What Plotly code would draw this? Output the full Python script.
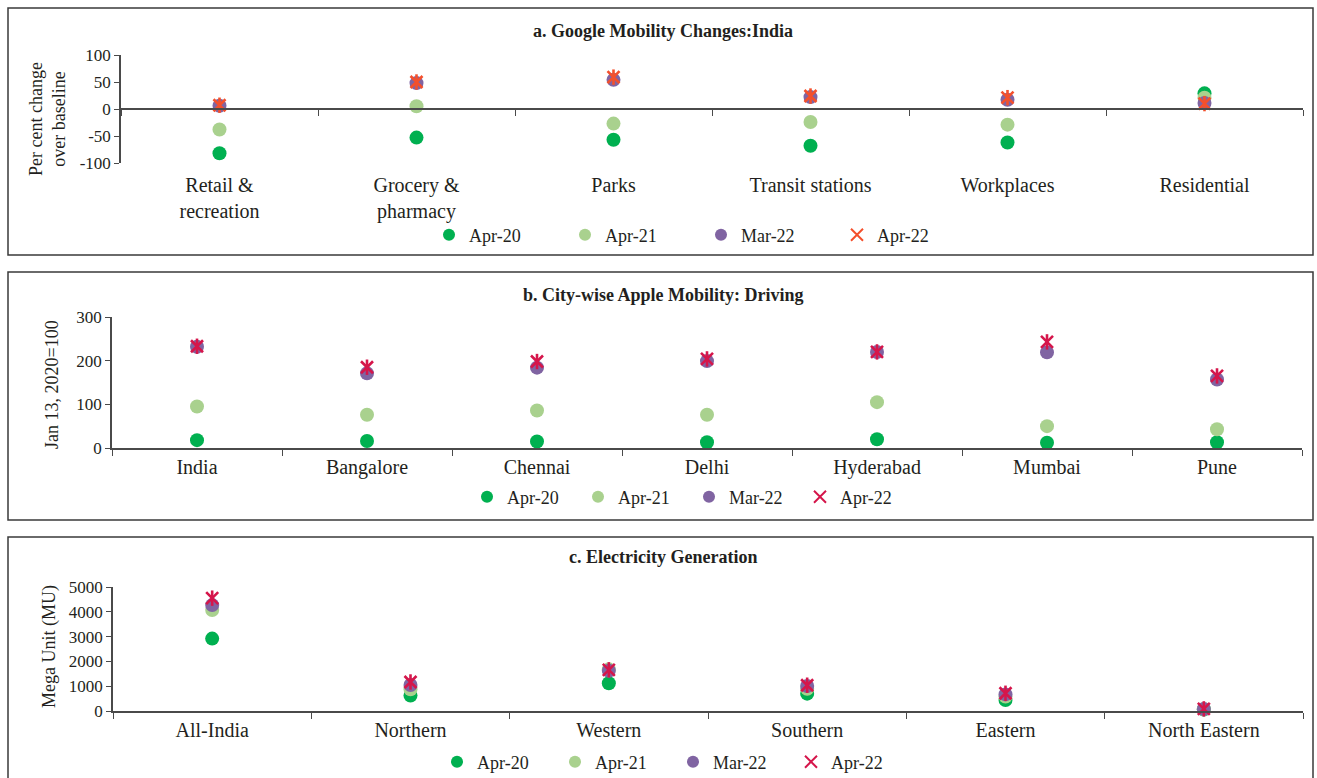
import plotly.graph_objects as go

W, H = 1317, 778

# ---- a. Google mobility changes: India (per cent change over baseline) ----
mobility_categories = ["Retail &<br>recreation", "Grocery &<br>pharmacy", "Parks",
                       "Transit stations", "Workplaces", "Residential"]
mob_apr20 = [-82, -53, -57, -68, -62, 29]
mob_apr21 = [-38, 5, -27, -24, -29, 21]
mob_mar22 = [6, 48, 54, 22, 17, 11]
mob_apr22 = [7, 50, 59, 24, 21, 10]
mob_ticks = [-100, -50, 0, 50, 100]

# ---- b. City-wise Apple mobility: driving (Jan 13, 2020 = 100) ----
cities = ["India", "Bangalore", "Chennai", "Delhi", "Hyderabad", "Mumbai", "Pune"]
drv_apr20 = [18, 16, 15, 13, 20, 12, 13]
drv_apr21 = [95, 76, 86, 76, 105, 50, 43]
drv_mar22 = [232, 171, 184, 199, 220, 219, 157]
drv_apr22 = [233, 185, 198, 204, 220, 243, 165]
drv_ticks = [0, 100, 200, 300]

# ---- c. Electricity generation (Mega Unit) ----
regions = ["All-India", "Northern", "Western", "Southern", "Eastern", "North Eastern"]
elec_apr20 = [2920, 620, 1120, 700, 445, 60]
elec_apr21 = [4070, 880, 1680, 900, 580, 70]
elec_mar22 = [4270, 1050, 1620, 1010, 670, 80]
elec_apr22 = [4550, 1170, 1660, 1040, 715, 85]
elec_ticks = [0, 1000, 2000, 3000, 4000, 5000]

series_names = ["Apr-20", "Apr-21", "Mar-22", "Apr-22"]

GREEN = "#00B050"
LIGHT_GREEN = "#A9D18E"
PURPLE = "#8064A2"
ORANGE_RED = "#F4502C"
CRIMSON = "#D5164B"

FONT = "Liberation Serif"
TEXT = "#231F20"
AXIS = "#4A4A4A"


def px(x):
    return x / W


def py(y):
    return 1 - y / H


fig = go.Figure()


def add_panel(cats, values, star_color, xa, ya, legend):
    colors = [GREEN, LIGHT_GREEN, PURPLE]
    for name, vals, col in zip(series_names[:3], values[:3], colors):
        fig.add_trace(go.Scatter(
            x=cats, y=vals, name=name, mode="markers",
            marker=dict(symbol="circle", size=14, color=col, line=dict(width=0)),
            xaxis=xa, yaxis=ya, legend=legend, cliponaxis=False,
        ))
    # Apr-22: star marker (diagonal cross plus vertical stroke)
    fig.add_trace(go.Scatter(
        x=cats, y=values[3], name=series_names[3], mode="markers",
        marker=dict(symbol="x-thin-open", size=12, color=star_color,
                    line=dict(width=2.6, color=star_color)),
        xaxis=xa, yaxis=ya, legend=legend, legendgroup=legend + "star",
        cliponaxis=False,
    ))
    fig.add_trace(go.Scatter(
        x=cats, y=values[3], name=series_names[3], mode="markers",
        marker=dict(symbol="line-ns-open", size=11, color=star_color,
                    line=dict(width=2.6, color=star_color)),
        xaxis=xa, yaxis=ya, legend=legend, legendgroup=legend + "star",
        showlegend=False, cliponaxis=False, hoverinfo="skip",
    ))


add_panel(mobility_categories, [mob_apr20, mob_apr21, mob_mar22, mob_apr22],
          ORANGE_RED, "x", "y", "legend")
add_panel(cities, [drv_apr20, drv_apr21, drv_mar22, drv_apr22],
          CRIMSON, "x2", "y2", "legend2")
add_panel(regions, [elec_apr20, elec_apr21, elec_mar22, elec_apr22],
          CRIMSON, "x3", "y3", "legend3")

x_tick_font = dict(family=FONT, size=20, color=TEXT)
y_tick_font = dict(family=FONT, size=17, color=TEXT)

common_x = dict(type="category", tickson="boundaries", ticks="outside", ticklen=6,
                tickcolor=AXIS, tickwidth=1.3, showline=True, linecolor=AXIS,
                linewidth=1.5, showgrid=False, zeroline=False, tickfont=x_tick_font,
                fixedrange=True)
common_y = dict(ticks="outside", ticklen=5, tickcolor=AXIS, tickwidth=1.3,
                showline=True, linecolor=AXIS, linewidth=1.5, showgrid=False,
                zeroline=False, tickfont=y_tick_font, fixedrange=True)

# panel a: category axis drawn along the zero line, labels pushed below the plot
ya_dom = [py(163), py(55)]
ya_rng = [-100, 100]
zero_pos = ya_dom[0] + (0 - ya_rng[0]) / (ya_rng[1] - ya_rng[0]) * (ya_dom[1] - ya_dom[0])

fig.update_layout(
    width=W, height=H,
    margin=dict(l=0, r=0, t=0, b=0, autoexpand=False),
    paper_bgcolor="white", plot_bgcolor="white",
    font=dict(family=FONT, size=18, color=TEXT),
    xaxis=dict(common_x, domain=[px(121), px(1303)], anchor="free", position=zero_pos,
               range=[-0.5, len(mobility_categories) - 0.5], ticklabelstandoff=58),
    yaxis=dict(common_y, domain=ya_dom, range=ya_rng, anchor="x",
               tickvals=mob_ticks, ticktext=[str(v) for v in mob_ticks]),
    xaxis2=dict(common_x, domain=[px(112), px(1302)], anchor="y2",
                range=[-0.5, len(cities) - 0.5]),
    yaxis2=dict(common_y, domain=[py(448), py(317)], range=[0, 300], anchor="x2",
                tickvals=drv_ticks, ticktext=[str(v) for v in drv_ticks]),
    xaxis3=dict(common_x, domain=[px(113), px(1303)], anchor="y3",
                range=[-0.5, len(regions) - 0.5]),
    yaxis3=dict(common_y, domain=[py(711), py(587)], range=[0, 5000], anchor="x3",
                tickvals=elec_ticks, ticktext=[str(v) for v in elec_ticks]),
    showlegend=True,
)

legend_common = dict(orientation="h", xanchor="left", yanchor="middle",
                     font=dict(family=FONT, size=18, color=TEXT),
                     bgcolor="rgba(0,0,0,0)", borderwidth=0, itemsizing="constant",
                     entrywidthmode="pixels", itemclick=False, itemdoubleclick=False)
fig.update_layout(
    legend=dict(legend_common, x=px(429), y=py(235), entrywidth=91),
    legend2=dict(legend_common, x=px(467), y=py(497), entrywidth=66),
    legend3=dict(legend_common, x=px(437), y=py(762), entrywidth=73),
)

# panel frames
frame = dict(type="rect", xref="paper", yref="paper",
             line=dict(color="#3A3A3A", width=1.5), fillcolor="rgba(0,0,0,0)", layer="below")
fig.add_shape(frame, x0=px(8), x1=px(1313), y0=py(255), y1=py(8))
fig.add_shape(frame, x0=px(8), x1=px(1313), y0=py(520), y1=py(272))
fig.add_shape(frame, x0=px(8), x1=px(1313), y0=py(795), y1=py(537))

# panel titles
titles = ["a. Google Mobility Changes:India",
          "b. City-wise Apple Mobility: Driving",
          "c. Electricity Generation"]
for t, ty in zip(titles, [31, 295, 557]):
    fig.add_annotation(text="<b>" + t + "</b>", x=px(663), y=py(ty), xref="paper",
                       yref="paper", showarrow=False, xanchor="center", yanchor="middle",
                       font=dict(family=FONT, size=18, color=TEXT))

# y-axis titles
y_titles = [("Per cent change<br>over baseline", 47, 119),
            ("Jan 13, 2020=100", 52, 385),
            ("Mega Unit (MU)", 49, 647)]
for t, tx, ty in y_titles:
    fig.add_annotation(text=t, x=px(tx), y=py(ty), xref="paper", yref="paper",
                       showarrow=False, textangle=-90, xanchor="center", yanchor="middle",
                       font=dict(family=FONT, size=18, color=TEXT))

fig.write_html("out.html")
